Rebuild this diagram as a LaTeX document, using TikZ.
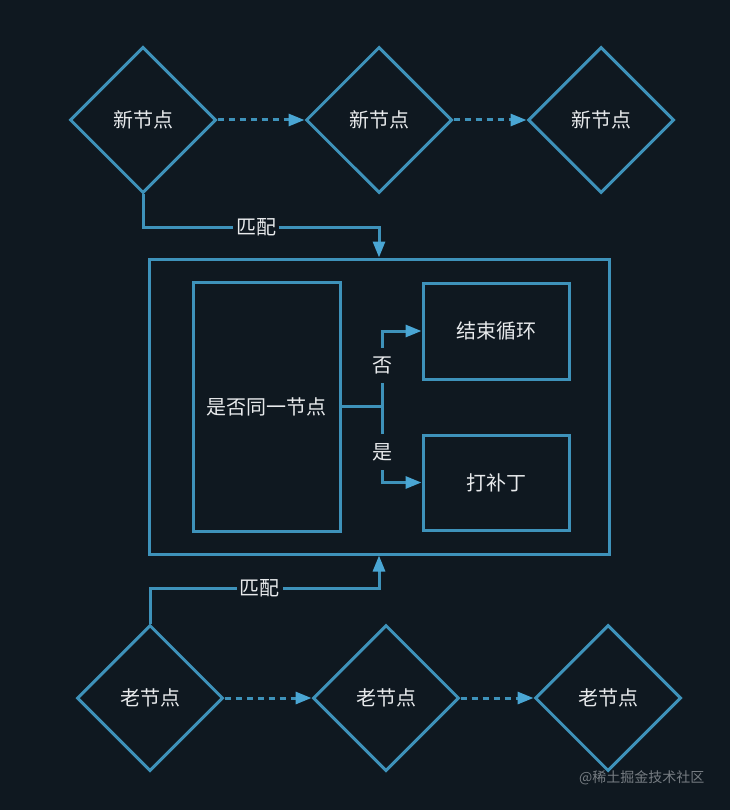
\documentclass[tikz,border=0pt]{standalone}
\usepackage{fontspec}
\setmainfont{Noto Sans CJK SC}
\usepackage{tikz}
\usetikzlibrary{
  shapes.geometric,
  arrows.meta,
  positioning
}
\definecolor{NightBg}{RGB}{15, 24, 32}
\definecolor{LineBlue}{RGB}{62, 146, 186}
\definecolor{TipBlue}{RGB}{74, 166, 212}
\definecolor{SoftWhite}{RGB}{232, 234, 236}
\definecolor{MarkGray}{RGB}{118, 124, 130}

\begin{document}
\begin{tikzpicture}[x=1pt, y=-1pt,
    every node/.style={text=SoftWhite, font=\fontsize{20}{23}\selectfont},
    vnode/.style={diamond, draw=LineBlue, line width=3pt, minimum width=146pt, minimum height=146pt, inner sep=0pt},
    vbox/.style={rectangle, draw=LineBlue, line width=3pt, inner sep=0pt},
    flow/.style={draw=LineBlue, line width=3pt, -{Triangle[length=16pt, width=12pt, color=TipBlue]}},
    chain/.style={flow, dash pattern=on 6pt off 5pt},
    lbl/.style={fill=NightBg, inner xsep=3pt, inner ysep=9pt}
  ]
  % canvas
  \fill[NightBg] (0,0) rectangle (730,810);
  \useasboundingbox (0,0) rectangle (730,810);

  % new vnodes
  \node[vnode] (newA) at (143,120) {新节点};
  \node[vnode] (newB) at (379,120) {新节点};
  \node[vnode] (newC) at (601,120) {新节点};
  \draw[chain] (newA.east) -- (newB.west);
  \draw[chain] (newB.east) -- (newC.west);

  % old vnodes
  \node[vnode] (oldA) at (150,698) {老节点};
  \node[vnode] (oldB) at (386,698) {老节点};
  \node[vnode] (oldC) at (608,698) {老节点};
  \draw[chain] (oldA.east) -- (oldB.west);
  \draw[chain] (oldB.east) -- (oldC.west);

  % compare box
  \node[vbox, minimum width=460pt, minimum height=295pt] (match) at (379,406.5) {};
  \node[vbox, minimum width=147pt, minimum height=249pt] (same) at (266.5,406.5) {是否同一节点};
  \node[vbox, minimum width=146pt, minimum height=96pt] (endloop) at (496,331) {结束循环};
  \node[vbox, minimum width=146pt, minimum height=95pt] (patch) at (496,482.5) {打补丁};

  % matching
  \draw[flow] (newA.south) -- ++(0,33) -| node[lbl, inner ysep=2pt, pos=0.24] {匹配} (match.north);
  \draw[flow] (oldA.north) -- ++(0,-35) -| node[lbl, inner ysep=2pt, pos=0.24] {匹配} (match.south);

  % branch
  \coordinate (fork) at ([xshift=41pt]same.east);
  \draw[line width=3pt, draw=LineBlue] (same.east) -- (fork);
  \draw[flow] (fork) |- node[lbl, pos=0.27] {否} (endloop.west);
  \draw[flow] (fork) |- node[lbl, pos=0.3] {是} (patch.west);

  % watermark
  \node[text=MarkGray, font=\fontsize{14}{16}\selectfont, anchor=east] (mark) at (708,778) {@稀土掘金技术社区};
\end{tikzpicture}
\end{document}
